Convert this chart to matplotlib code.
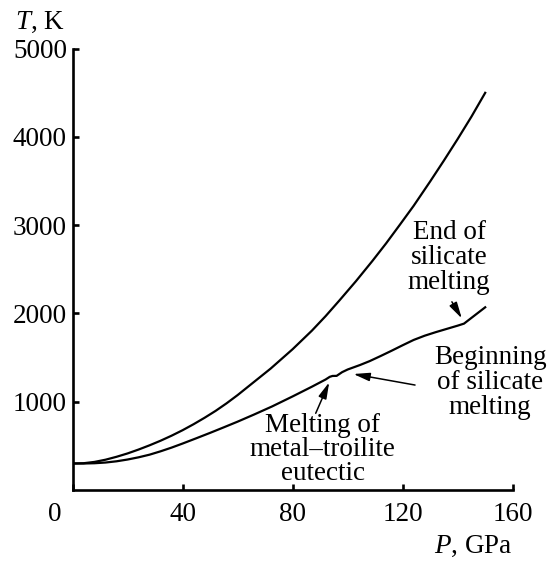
import matplotlib
matplotlib.use("Agg")
import matplotlib.pyplot as plt

plt.rcParams['font.family'] = ['Liberation Serif', 'DejaVu Serif']
plt.rcParams['mathtext.fontset'] = 'custom'
plt.rcParams['mathtext.it'] = 'Liberation Serif:italic'
plt.rcParams['mathtext.rm'] = 'Liberation Serif'

# Data
p_end = [0, 4, 8, 12, 16, 20, 24, 28, 32, 36, 40, 44, 48, 52, 56, 60, 66, 72, 80,
         87, 92, 97, 103, 109, 114, 119, 124, 130, 135, 140, 145, 150]
t_end = [300, 303, 318, 343, 376, 414, 458, 506, 558, 615, 677, 745, 818, 896, 982,
         1075, 1225, 1375, 1595, 1805, 1970, 2147, 2365, 2595, 2795, 3006, 3220, 3496,
         3733, 3977, 4230, 4500]

p_begin = [0, 4, 8, 12, 16, 20, 24, 28, 32, 36, 40, 45, 50, 55, 60, 66, 72.5, 80, 87,
           92, 93.5, 94.5, 96, 98, 100, 104.5, 108, 112, 116, 120, 124, 128, 132, 136,
           140, 142.3, 150]
t_begin = [300, 300, 303, 311, 325, 345, 370, 400, 438, 480, 526, 586, 647, 710, 774,
           855, 946, 1060, 1170, 1252, 1282, 1292, 1293, 1335, 1365, 1416, 1460, 1518,
           1578, 1640, 1700, 1748, 1788, 1825, 1862, 1885, 2070]

x_ticks = [0, 40, 80, 120, 160]
y_ticks = [1000, 2000, 3000, 4000, 5000]
x_label = "$\\mathit{P}$, GPa"
y_label = "$\\mathit{T}$, K"

notes = ["End of\nsilicate\nmelting",
         "Beginning\nof silicate\nmelting",
         "Melting of\nmetal\u2013troilite\neutectic"]
note_text_xy = [(136.9, 2633), (151.8, 1217), (90.9, 461)]
note_tail_xy = [(137.9, 2132), (124.5, 1189), (88.4, 869)]
note_head_xy = [(141.5, 1944), (102.1, 1314), (93.3, 1220)]
note_spacing = [1.02, 1.0, 0.95]

fs = 19.5

fig = plt.figure(figsize=(5.48, 5.63), dpi=100)
ax = fig.add_axes([0.1323, 0.1297, 0.8033, 0.7838])

ax.plot(p_end, t_end, color='black', lw=1.6, solid_joinstyle='round')
ax.plot(p_begin, t_begin, color='black', lw=1.6, solid_joinstyle='round')

ax.set_xlim(0, 160)
ax.set_ylim(0, 5000)
ax.spines['top'].set_visible(False)
ax.spines['right'].set_visible(False)
for s in ('left', 'bottom'):
    ax.spines[s].set_linewidth(1.9)

ax.set_xticks(x_ticks)
ax.set_xticklabels([''] + [str(v) for v in x_ticks[1:]])
ax.set_yticks(y_ticks)
ax.set_yticklabels([str(v) for v in y_ticks])
ax.tick_params(axis='both', direction='in', length=4.6, width=1.9, labelsize=fs)
ax.tick_params(axis='x', pad=9)
ax.tick_params(axis='y', pad=4)

# origin label shifted left
ax.annotate(str(x_ticks[0]), xy=(0, 0), xycoords='axes fraction',
            xytext=(-12.5, -9), textcoords='offset points',
            ha='center', va='top', fontsize=fs)

ax.annotate(y_label, xy=(0, 1), xycoords='axes fraction',
            xytext=(-5.5, 14.5), textcoords='offset points',
            ha='right', va='baseline', fontsize=fs)
ax.annotate(x_label, xy=(1, 0), xycoords='axes fraction',
            xytext=(0, -45.5), textcoords='offset points',
            ha='right', va='baseline', fontsize=fs)

for txt, txy, tail, head, ls in zip(notes, note_text_xy, note_tail_xy, note_head_xy,
                                    note_spacing):
    ax.text(txy[0], txy[1], txt, ha='center', va='center', fontsize=fs,
            linespacing=ls)
    ax.annotate('', xy=head, xytext=tail,
                arrowprops=dict(arrowstyle='-|>,head_length=0.7,head_width=0.18',
                                color='black', lw=1.1, shrinkA=0, shrinkB=0,
                                mutation_scale=14))

fig.savefig('out.png', dpi=100)
